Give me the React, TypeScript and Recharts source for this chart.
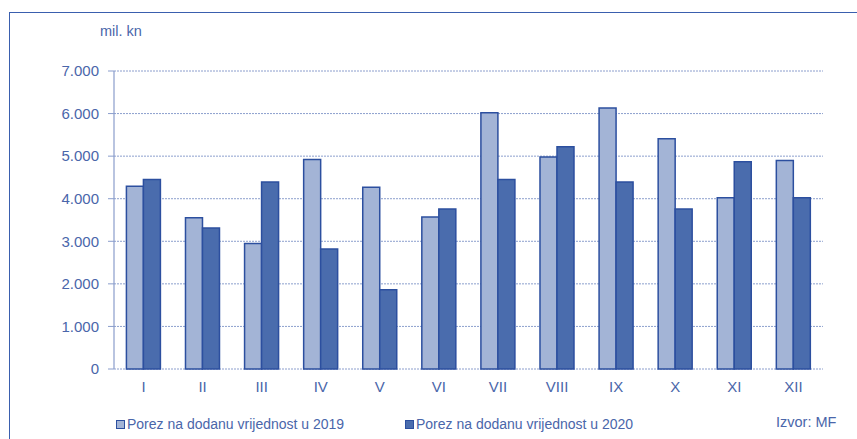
import React from "react";
import {
  BarChart,
  Bar,
  XAxis,
  YAxis,
  CartesianGrid,
} from "recharts";

const months = ["I", "II", "III", "IV", "V", "VI", "VII", "VIII", "IX", "X", "XI", "XII"];
const pdv2019 = [4290, 3550, 2950, 4920, 4270, 3570, 6020, 4980, 6130, 5410, 4020, 4900];
const pdv2020 = [4450, 3310, 4390, 2820, 1860, 3760, 4450, 5220, 4390, 3760, 4870, 4020];
const yTicks = [0, 1000, 2000, 3000, 4000, 5000, 6000, 7000];
const boundaryTicks = [0, 1, 2, 3, 4, 5, 6, 7, 8, 9, 10, 11, 12];
const seriesNames = ["Porez na dodanu vrijednost u 2019", "Porez na dodanu vrijednost u 2020"];

const data = months.map((m, i) => ({ month: m, y2019: pdv2019[i], y2020: pdv2020[i] }));

const textBlue = "#4a66aa";
const lightFill = "#a3b4d6";
const darkFill = "#4a6cad";
const barStroke = "#2c4f9f";
const font = "'Liberation Sans', Arial, sans-serif";

const fmt = (v: number) => (v === 0 ? "0" : `${Math.floor(v / 1000)}.${String(v % 1000).padStart(3, "0")}`);

function LegendItem({ color, label, left }: { color: string; label: string; left: number }) {
  return (
    <div style={{ position: "absolute", left, top: 416, display: "flex", alignItems: "center" }}>
      <span
        style={{
          width: 7,
          height: 7,
          background: color,
          border: `1px solid ${barStroke}`,
          marginRight: 2,
          display: "inline-block",
        }}
      />
      <span style={{ fontSize: 14, color: textBlue }}>{label}</span>
    </div>
  );
}

export default function App() {
  return (
    <div
      style={{
        position: "absolute",
        left: 0,
        top: 0,
        width: 857,
        height: 439,
        background: "#fff",
        fontFamily: font,
        overflow: "hidden",
      }}
    >
      <div
        style={{
          position: "absolute",
          left: 9,
          top: 12,
          width: 860,
          height: 440,
          borderTop: "1.5px solid #3a5fae",
          borderLeft: "1.5px solid #3a5fae",
        }}
      />
      <div style={{ position: "absolute", left: 100, top: 23, fontSize: 14.5, color: textBlue }}>mil. kn</div>

      <BarChart
        width={857}
        height={439}
        data={data}
        margin={{ top: 71, right: 34, bottom: 0, left: 0 }}
        barCategoryGap="21%"
        barGap={0}
        style={{ position: "absolute", left: 0, top: 0 }}
      >
        <CartesianGrid
          vertical={false}
          stroke="#6f86c0"
          strokeDasharray="2 1"
          strokeWidth={0.8}
        />
        <XAxis
          xAxisId="grid"
          type="number"
          domain={[0, 12]}
          ticks={boundaryTicks}
          height={0}
          axisLine={{ stroke: "#8a9dcc", strokeWidth: 1.2 }}
          tickLine={{ stroke: "#8a9dcc" }}
          tickSize={5}
          tickFormatter={() => ""}
        />
        <XAxis
          dataKey="month"
          height={70}
          axisLine={false}
          tickLine={false}
          tickSize={0}
          tickMargin={12}
          interval={0}
          tick={{ fill: textBlue, fontSize: 15, fontFamily: font }}
        />
        <YAxis
          width={114}
          domain={[0, 7000]}
          ticks={yTicks}
          tickFormatter={fmt}
          axisLine={{ stroke: "#8a9dcc", strokeWidth: 1.2 }}
          tickLine={{ stroke: "#8a9dcc" }}
          tickSize={6}
          tickMargin={9}
          tick={{ fill: textBlue, fontSize: 15, fontFamily: font }}
        />
        <Bar
          dataKey="y2019"
          name={seriesNames[0]}
          fill={lightFill}
          stroke={barStroke}
          strokeWidth={1.5}
          isAnimationActive={false}
        />
        <Bar
          dataKey="y2020"
          name={seriesNames[1]}
          fill={darkFill}
          stroke={barStroke}
          strokeWidth={1.5}
          isAnimationActive={false}
        />
      </BarChart>

      <LegendItem color={lightFill} label={seriesNames[0]} left={116} />
      <LegendItem color={darkFill} label={seriesNames[1]} left={405} />
      <div style={{ position: "absolute", left: 776, top: 414, fontSize: 14.5, color: textBlue }}>Izvor: MF</div>
    </div>
  );
}
